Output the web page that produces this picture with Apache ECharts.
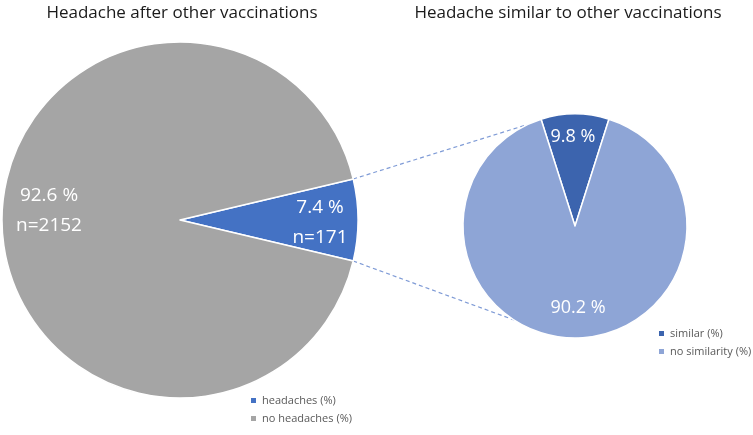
<!DOCTYPE html>
<html>
<head>
<meta charset="utf-8">
<script src="https://cdn.jsdelivr.net/npm/echarts@6/dist/echarts.min.js"></script>
<style>
  html, body { margin: 0; padding: 0; background: #fff; }
  #chart { width: 753px; height: 435px; }
</style>
</head>
<body>
<div id="chart"></div>
<script>
// data
const mainNames = ['headaches (%)', 'no headaches (%)']
const mainValues = [7.4, 92.6]
const mainCounts = [171, 2152]
const subNames = ['similar (%)', 'no similarity (%)']
const subValues = [9.8, 90.2]

const mainColors = ['#4472c4', '#a5a5a5']
const subColors = ['#3c64ae', '#8ea5d6']

// layout of the two pies
const leftCenter = [180, 220], leftRadius = 178
const rightCenter = [575, 226], rightRadius = 112

const sum = arr => arr.reduce((a, b) => a + b, 0)
const leftStart = mainValues[0] / sum(mainValues) * 180
const rightStart = 90 + subValues[0] / sum(subValues) * 180

const font = 'Open Sans'

// connector lines from the exploded slice edges to the second pie
const rad = d => d * Math.PI / 180
const onCircle = (c, r, deg) => [c[0] + r * Math.cos(rad(deg)), c[1] - r * Math.sin(rad(deg))]
const connectors = [
  [onCircle(leftCenter, leftRadius, leftStart), onCircle(rightCenter, rightRadius, 115)],
  [onCircle(leftCenter, leftRadius, -leftStart), onCircle(rightCenter, rightRadius, -123)]
]

const chart = echarts.init(document.getElementById('chart'))

// nudges for the inside labels (excel puts them further out)
const labelShift = {
  main: [[48, 3], [-39, -9]],
  sub: [[-2, -30], [3, 23]]
}

const option = {
  animation: false,
  title: [
    {
      text: 'Headache after other vaccinations',
      left: 177, top: 0, textAlign: 'center',
      textStyle: { fontFamily: font, fontSize: 17, fontWeight: 'normal', color: '#1a1a1a' }
    },
    {
      text: 'Headache similar to other vaccinations',
      left: 563, top: 0, textAlign: 'center',
      textStyle: { fontFamily: font, fontSize: 17, fontWeight: 'normal', color: '#1a1a1a' }
    }
  ],
  legend: [
    {
      data: mainNames,
      orient: 'vertical',
      left: 244, top: 390,
      icon: 'rect', itemWidth: 7, itemHeight: 7, itemGap: 7,
      textStyle: { fontFamily: font, fontSize: 11, color: '#595959' }
    },
    {
      data: subNames,
      orient: 'vertical',
      left: 652, top: 323,
      icon: 'rect', itemWidth: 7, itemHeight: 7, itemGap: 7,
      textStyle: { fontFamily: font, fontSize: 11, color: '#595959' }
    }
  ],
  graphic: connectors.map(pts => ({
    type: 'polyline',
    z: 0,
    shape: { points: pts },
    style: { stroke: '#7f9bd6', lineWidth: 1.2, lineDash: [4, 3], fill: null }
  })),
  series: [
    {
      name: 'main',
      type: 'pie',
      center: leftCenter,
      radius: [0, leftRadius],
      startAngle: leftStart,
      clockwise: true,
      avoidLabelOverlap: false,
      itemStyle: { borderColor: '#fff', borderWidth: 1.5 },
      label: {
        show: true,
        position: 'inside',
        color: '#fff',
        fontFamily: font,
        fontSize: 19,
        lineHeight: 30,
        formatter: p => p.value + ' %\nn=' + mainCounts[p.dataIndex]
      },
      labelLayout: p => ({ dx: labelShift.main[p.dataIndex][0], dy: labelShift.main[p.dataIndex][1] }),
      emphasis: { disabled: true },
      data: mainNames.map((n, i) => ({ name: n, value: mainValues[i], itemStyle: { color: mainColors[i] } }))
    },
    {
      name: 'sub',
      type: 'pie',
      center: rightCenter,
      radius: [0, rightRadius],
      startAngle: rightStart,
      clockwise: true,
      avoidLabelOverlap: false,
      itemStyle: { borderColor: '#fff', borderWidth: 1.5 },
      label: {
        show: true,
        position: 'inside',
        color: '#fff',
        fontFamily: font,
        fontSize: 18,
        formatter: p => p.value + ' %'
      },
      labelLayout: p => ({ dx: labelShift.sub[p.dataIndex][0], dy: labelShift.sub[p.dataIndex][1] }),
      emphasis: { disabled: true },
      data: subNames.map((n, i) => ({ name: n, value: subValues[i], itemStyle: { color: subColors[i] } }))
    }
  ]
}

chart.setOption(option)
window.addEventListener('resize', () => chart.resize())
</script>
</body>
</html>
